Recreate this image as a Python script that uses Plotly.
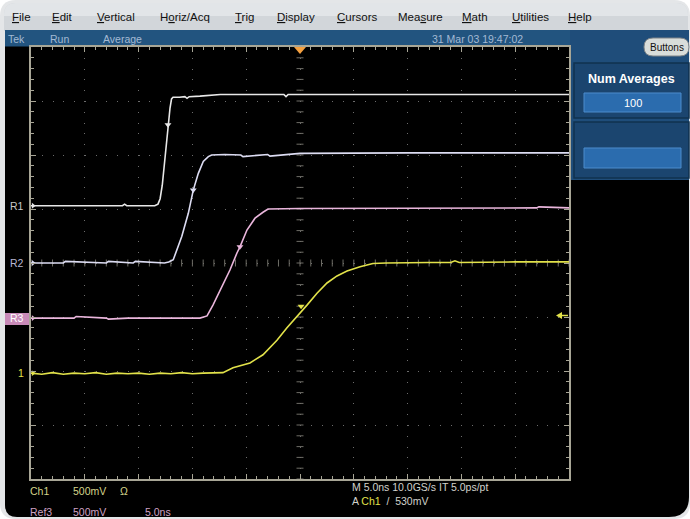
import numpy as np
import plotly.graph_objects as go

W, H = 690, 519
FONT = "Liberation Sans, Arial, sans-serif"

# ---------------- data: time (ns), amplitude (screen divisions, 500 mV/div) -------------
r1_t = [-25, -20, -16.5, -16.3, -16.1, -14.5, -13.5, -13.2, -13.0, -12.8, -12.6, -12.45,
        -12.27, -12.08, -11.94, -11.8, -11.2, -10.7, -10.5, -10.3, -9.3, -7.4, -5, -1.5,
        -1.3, -1.1, 2, 5, 10, 15, 20, 25]
r1_v = [1.06, 1.06, 1.06, 1.09, 1.06, 1.06, 1.06, 1.09, 1.19, 1.44, 1.82, 2.19,
        2.56, 2.87, 3.04, 3.07, 3.07, 3.08, 3.05, 3.08, 3.09, 3.12, 3.12, 3.12,
        3.08, 3.12, 3.12, 3.12, 3.12, 3.12, 3.12, 3.12]

r2_t = [-25, -22, -21.8, -18, -17.8, -15.5, -15.3, -12.6, -12.2, -11.78, -10.99, -10.38,
        -9.92, -9.45, -8.99, -8.52, -8.21, -7, -5.5, -5.3, -3, -2.8, 0, 5, 10, 15, 25]
r2_v = [0.0, 0.0, 0.03, 0.0, 0.03, 0.0, 0.03, 0.0, 0.02, 0.06, 0.49, 0.92,
        1.35, 1.66, 1.88, 1.97, 2.0, 2.01, 2.0, 1.97, 2.01, 1.98, 2.03, 2.04, 2.04, 2.04, 2.04]

r3_t = [-25, -21, -20.8, -18, -17.8, -16, -9.3, -8.64, -8.09, -7.44, -6.51, -5.86,
        -5.58, -4.93, -4.18, -3.44, -2.97, 0, 10, 15, 22, 22.2, 25]
r3_v = [-1.02, -1.02, -0.99, -1.02, -1.04, -1.02, -1.02, -0.98, -0.78, -0.50, -0.13, 0.185,
        0.30, 0.61, 0.83, 0.94, 1.0, 1.01, 1.02, 1.02, 1.02, 1.04, 1.02]

ch1_t = [-25, -24, -23, -22, -21, -20, -19, -18, -17, -16, -15, -14, -13, -12, -11, -10,
         -9, -8, -7.16, -6.23, -4.65, -3.44, -2.14, -1.21, -0.28, 0.65, 1.58, 2.51, 3.44,
         4.37, 5.58, 6.78, 8, 10, 12, 14, 14.4, 14.8, 17, 20, 23, 25]
ch1_v = [-2.04, -2.06, -2.03, -2.06, -2.04, -2.05, -2.03, -2.06, -2.04, -2.05, -2.04, -2.06,
         -2.04, -2.05, -2.03, -2.05, -2.04, -2.04, -2.03, -1.94, -1.85, -1.70, -1.43, -1.20,
         -1.00, -0.78, -0.56, -0.37, -0.24, -0.15, -0.07, -0.01, 0.0, 0.01, 0.01, 0.01,
         0.04, 0.01, 0.02, 0.02, 0.02, 0.02]

mark_t = [-12.27, -9.92, -5.58, 0.1]
mark_v = [2.56, 1.35, 0.30, -0.80]

ref_labels = ["R1", "R2", "R3", "1"]
ref_levels = [1.06, 0.0, -1.02, -2.04]

menu_items = ["<u>F</u>ile", "<u>E</u>dit", "<u>V</u>ertical", "H<u>o</u>riz/Acq", "<u>T</u>rig",
              "<u>D</u>isplay", "<u>C</u>ursors", "Mea<u>s</u>ure", "<u>M</u>ath",
              "<u>U</u>tilities", "<u>H</u>elp"]
menu_x = [12, 52, 97, 160, 235, 277, 337, 398, 462, 512, 568]

C_R1, C_R2, C_R3, C_CH1 = "#e8e8e8", "#dcdcf2", "#eab6dc", "#e2e24a"
trace_colors = [C_R1, C_R2, C_R3, C_CH1]
label_colors = ["#c8c8c8", "#b8b8d4", "#ffffff", C_CH1]


def px(x):
    return x / W


def py(y):
    return 1 - y / H


def P(x, y):
    return f"{px(x):.5f},{py(y):.5f}"


def rrect(x0, y0, x1, y1, tl=0, tr=0, br=0, bl=0):
    return (f"M{P(x0 + tl, y0)} L{P(x1 - tr, y0)} Q{P(x1, y0)} {P(x1, y0 + tr)} "
            f"L{P(x1, y1 - br)} Q{P(x1, y1)} {P(x1 - br, y1)} L{P(x0 + bl, y1)} "
            f"Q{P(x0, y1)} {P(x0, y1 - bl)} L{P(x0, y0 + tl)} Q{P(x0, y0)} {P(x0 + tl, y0)} Z")


shapes = []


def add_path(path, fill, line="rgba(0,0,0,0)", lw=0, layer="below"):
    shapes.append(dict(type="path", path=path, xref="paper", yref="paper", fillcolor=fill,
                       line=dict(color=line, width=lw), layer=layer))


# outer bezel
add_path(rrect(0, 0, 690, 519, 16, 16, 16, 16), "#e4e6e8")
# menu bar (two-tone pseudo-gradient)
add_path(rrect(4, 3, 688, 31, 12, 12, 0, 0), "#d2d6da")
add_path(rrect(4, 3, 688, 16, 12, 12, 0, 0), "#e2e5e8")
# black screen body
add_path(rrect(5, 30, 689, 517, 0, 0, 20, 12), "#000000")
# status bar
add_path(rrect(5, 30, 689, 46.5), "#22547f")
# right panel
add_path(rrect(570, 30, 689, 180), "#1f4d7a")
add_path(rrect(574, 63, 689, 118), "#1b456f", "#11324f", 1.5)
add_path(rrect(584, 93, 681, 112), "#2b6cae", "#4c8ccc", 1)
add_path(rrect(574, 122, 689, 178), "#1b456f", "#11324f", 1.5)
add_path(rrect(584, 148, 681, 168), "#2b6cae", "#4c8ccc", 1)
add_path(rrect(644, 38, 689, 56, 9, 9, 9, 9), "#d9ddda", "#7e8488", 1)
# trigger position marker (top) and trigger level arrow (right)
add_path(f"M{P(294, 47)} L{P(306, 47)} L{P(300, 54)} Z", "#f4a040", layer="above")
add_path(f"M{P(556, 315.5)} L{P(562, 312)} L{P(562, 319)} Z", C_CH1, layer="above")
shapes.append(dict(type="line", xref="paper", yref="paper", x0=px(561), x1=px(568),
                   y0=py(315.5), y1=py(315.5), line=dict(color=C_CH1, width=1.5)))
# R3 highlighted label box
add_path(rrect(5, 313, 29, 325), "#c88ab8", layer="below")

annotations = []


def ann(x, y, text, color, size, anchor="left", bold=False, family=FONT):
    if bold:
        text = f"<b>{text}</b>"
    annotations.append(dict(x=px(x), y=py(y), xref="paper", yref="paper", text=text,
                            showarrow=False, xanchor=anchor, yanchor="middle",
                            font=dict(family=family, size=size, color=color)))


for t, xm in zip(menu_items, menu_x):
    ann(xm - 2, 17, t, "#111111", 11.5)

ann(6, 38.5, "Tek", "#a4bad4", 10.5)
ann(48, 38.5, "Run", "#a4bad4", 10.5)
ann(101, 38.5, "Average", "#a4bad4", 10.5)
ann(430, 38.5, "31 Mar 03 19:47:02", "#a4bad4", 10.5)
ann(666.5, 47, "Buttons", "#111111", 10, anchor="center")
ann(631.5, 79.5, "Num Averages", "#ffffff", 12.5, anchor="center", bold=True)
ann(632.5, 102.5, "100", "#ffffff", 11, anchor="center")

ann(28, 491, "Ch1", "#d4d48a", 10.5)
ann(71, 491, "500mV", "#d4d48a", 10.5)
ann(118, 491, "Ω", "#d4d48a", 10.5)
ann(350, 487, "M 5.0ns 10.0GS/s IT 5.0ps/pt", "#d2d2cc", 10.5)
ann(350, 500.5, "A <span style='color:#e2e24a'>Ch1</span>  /  530mV", "#d2d2cc", 10.5)
ann(28, 512, "Ref3", "#cfa2c4", 10.5)
ann(71, 512, "500mV", "#cfa2c4", 10.5)
ann(143, 512, "5.0ns", "#cfa2c4", 10.5)

# channel reference labels on the left edge (tied to data levels)
for lab, lev, col in zip(ref_labels, ref_levels, label_colors):
    annotations.append(dict(x=px(26), y=lev, xref="paper", yref="y", text=lab,
                            showarrow=False, xanchor="right", yanchor="middle",
                            font=dict(family=FONT, size=10.5, color=col)))

fig = go.Figure()

GRAT = "#a8a696"
TICKC = "#6e6d66"
# graticule cross ticks on centre lines
minor_t = np.arange(-25, 25.01, 1.0)
minor_v = np.arange(-4, 4.01, 0.2)
fig.add_trace(go.Scatter(x=minor_t, y=np.zeros_like(minor_t), mode="markers",
                         marker=dict(symbol="line-ns", size=5, line=dict(color=TICKC, width=1)),
                         hoverinfo="skip"))
fig.add_trace(go.Scatter(x=np.zeros_like(minor_v), y=minor_v, mode="markers",
                         marker=dict(symbol="line-ew", size=5, line=dict(color=TICKC, width=1)),
                         hoverinfo="skip"))

for t, v, c in zip([r1_t, r2_t, r3_t, ch1_t], [r1_v, r2_v, r3_v, ch1_v], trace_colors):
    fig.add_trace(go.Scatter(x=t, y=v, mode="lines", line=dict(color=c, width=1.6),
                             hoverinfo="skip"))

fig.add_trace(go.Scatter(x=mark_t, y=mark_v, mode="markers",
                         marker=dict(symbol="triangle-down", size=6, color=trace_colors),
                         hoverinfo="skip"))

# ground/reference arrows at the left edge
fig.add_trace(go.Scatter(x=[-24.8] * 4, y=ref_levels, mode="markers", cliponaxis=False,
                         marker=dict(symbol="triangle-right", size=5, color=trace_colors),
                         hoverinfo="skip"))

fig.update_layout(
    width=W, height=H, margin=dict(l=0, r=0, t=0, b=0),
    paper_bgcolor="#ffffff", plot_bgcolor="rgba(0,0,0,0)",
    showlegend=False, hovermode=False,
    shapes=shapes, annotations=annotations,
    xaxis=dict(domain=[px(31), px(569)], range=[-25, 25], tick0=0, dtick=5,
               showgrid=True, gridcolor="#6c6c6c", gridwidth=1, griddash="1px,9.8px",
               zeroline=False, showline=True, mirror="allticks", linecolor=GRAT, linewidth=1.5,
               ticks="inside", ticklen=5, tickcolor=GRAT, tickwidth=1,
               minor=dict(dtick=1, ticks="inside", ticklen=3, tickcolor=GRAT, showgrid=False),
               showticklabels=False, fixedrange=True),
    yaxis=dict(domain=[py(479), py(47)], range=[-4, 4], tick0=0, dtick=1,
               showgrid=True, gridcolor="#6c6c6c", gridwidth=1, griddash="1px,9.76px",
               zeroline=False, showline=True, mirror="allticks", linecolor=GRAT, linewidth=1.5,
               ticks="inside", ticklen=5, tickcolor=GRAT, tickwidth=1,
               minor=dict(dtick=0.2, ticks="inside", ticklen=3, tickcolor=GRAT, showgrid=False),
               showticklabels=False, fixedrange=True),
)

fig.write_html("out.html", config={"displayModeBar": False},
               post_script="document.body.style.margin='0px';document.body.style.overflow='hidden';")
